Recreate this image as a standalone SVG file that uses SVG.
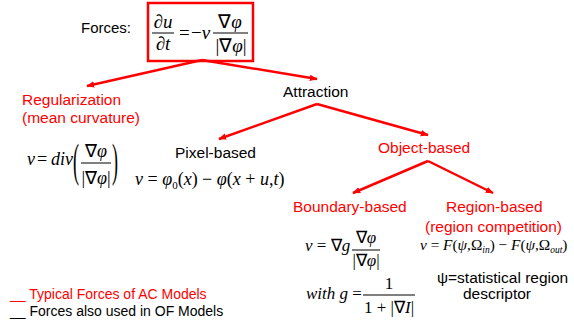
<svg xmlns="http://www.w3.org/2000/svg" width="574" height="324" viewBox="0 0 574 324">
<style>
.s{font-family:"Liberation Sans",Arial,sans-serif;font-size:15.5px}
.red{fill:#ff0000}
.blk{fill:#000}
.m{font-family:"Liberation Serif","Times New Roman",serif;font-style:italic;fill:#000}
.u{font-style:normal}
.bar{stroke:#000;stroke-width:1}
.c{stroke:#ff0000;stroke-width:2.5;fill:none}
</style>
<defs>
<marker id="ah" markerUnits="userSpaceOnUse" markerWidth="8" markerHeight="8" viewBox="0 0 10 10" refX="9" refY="5" orient="auto">
<path d="M0,1 L10,5 L0,9 z" fill="#ff0000"/>
</marker>
</defs>
<rect width="574" height="324" fill="#fff"/>

<g id="forces">
<text class="s blk" x="81" y="33" style="font-size:15px">Forces:</text>
<rect x="148" y="3" width="105" height="58" fill="none" stroke="#ff0000" stroke-width="2.5"/>
<g class="m" style="font-size:19px">
<text x="163" y="28" text-anchor="middle">∂u</text>
<line class="bar" x1="152" y1="33" x2="174" y2="33"/>
<text x="163" y="50" text-anchor="middle">∂t</text>
<text x="179" y="39" class="u">=</text>
<text x="191" y="39"><tspan class="u">−</tspan>v</text>
<text x="230" y="28" text-anchor="middle"><tspan class="u">∇</tspan>φ</text>
<line class="bar" x1="213" y1="33" x2="248" y2="33"/>
<text x="231" y="52" text-anchor="middle"><tspan class="u">|∇</tspan>φ<tspan class="u">|</tspan></text>
</g>
</g>

<g id="regularization">
<text class="s red" x="22" y="105">Regularization</text>
<text class="s red" x="22" y="123">(mean curvature)</text>
<g class="m" style="font-size:18px">
<text x="27" y="165">v</text>
<text class="u" x="37" y="165">=</text>
<text x="51" y="165">div</text>
<text class="u" transform="translate(73,176) scale(1,2.6)">(</text>
<text x="96" y="157" text-anchor="middle"><tspan class="u">∇</tspan>φ</text>
<line class="bar" x1="81" y1="163" x2="111" y2="163"/>
<text x="96" y="184" text-anchor="middle"><tspan class="u">|∇</tspan>φ<tspan class="u">|</tspan></text>
<text class="u" transform="translate(112,176) scale(1,2.6)">)</text>
</g>
</g>

<g id="attraction">
<text class="s blk" x="283" y="97">Attraction</text>
</g>

<g id="pixel">
<text class="s blk" x="175" y="158">Pixel-based</text>
<text class="m" x="135" y="185" style="font-size:18px">v <tspan class="u">=</tspan> φ<tspan class="u" font-size="11" dy="4">0</tspan><tspan class="u" dy="-4">(</tspan>x<tspan class="u">) − </tspan>φ<tspan class="u">(</tspan>x<tspan class="u"> + </tspan>u<tspan class="u">,</tspan>t<tspan class="u">)</tspan></text>
</g>

<g id="object">
<text class="s red" x="378" y="153">Object-based</text>
</g>

<g id="boundary">
<text class="s red" x="293" y="212">Boundary-based</text>
<g class="m" style="font-size:17px">
<text x="305" y="251">v <tspan class="u">= ∇</tspan>g</text>
<text x="366" y="243" text-anchor="middle"><tspan class="u">∇</tspan>φ</text>
<line class="bar" x1="352" y1="250" x2="380" y2="250"/>
<text x="366" y="266" text-anchor="middle"><tspan class="u">|∇</tspan>φ<tspan class="u">|</tspan></text>
<text x="306" y="299">with  g <tspan class="u">=</tspan></text>
<text class="u" x="389" y="289" text-anchor="middle">1</text>
<line class="bar" x1="363" y1="295" x2="415" y2="295"/>
<text x="389" y="313" text-anchor="middle"><tspan class="u">1 + |∇</tspan>I<tspan class="u">|</tspan></text>
</g>
</g>

<g id="region">
<text class="s red" x="446" y="212">Region-based</text>
<text class="s red" x="425" y="232">(region competition)</text>
<text class="m" x="420" y="250" style="font-size:15.3px">v <tspan class="u">=</tspan> F<tspan class="u">(</tspan>ψ<tspan class="u">,Ω</tspan><tspan font-size="9.5" dy="3">in</tspan><tspan class="u" dy="-3">) − </tspan>F<tspan class="u">(</tspan>ψ<tspan class="u">,Ω</tspan><tspan font-size="9.5" dy="3">out</tspan><tspan class="u" dy="-3">)</tspan></text>
<text class="s blk" x="437" y="283">ψ=statistical region</text>
<text class="s blk" x="497" y="299" text-anchor="middle">descriptor</text>
</g>

<g id="connectors">
<line class="c" x1="202" y1="60" x2="87" y2="86" marker-end="url(#ah)"/>
<line class="c" x1="202" y1="60" x2="317" y2="79" marker-end="url(#ah)"/>
<line class="c" x1="317" y1="104" x2="219" y2="139" marker-end="url(#ah)"/>
<line class="c" x1="317" y1="104" x2="428" y2="135" marker-end="url(#ah)"/>
<line class="c" x1="428" y1="161" x2="353" y2="193" marker-end="url(#ah)"/>
<line class="c" x1="428" y1="161" x2="493" y2="193" marker-end="url(#ah)"/>
</g>

<g id="legend">
<text class="s red" x="10" y="299" style="font-size:14px">__ Typical Forces of AC Models</text>
<text class="s blk" x="10" y="316" style="font-size:14px">__ Forces also used in OF Models</text>
</g>
</svg>
